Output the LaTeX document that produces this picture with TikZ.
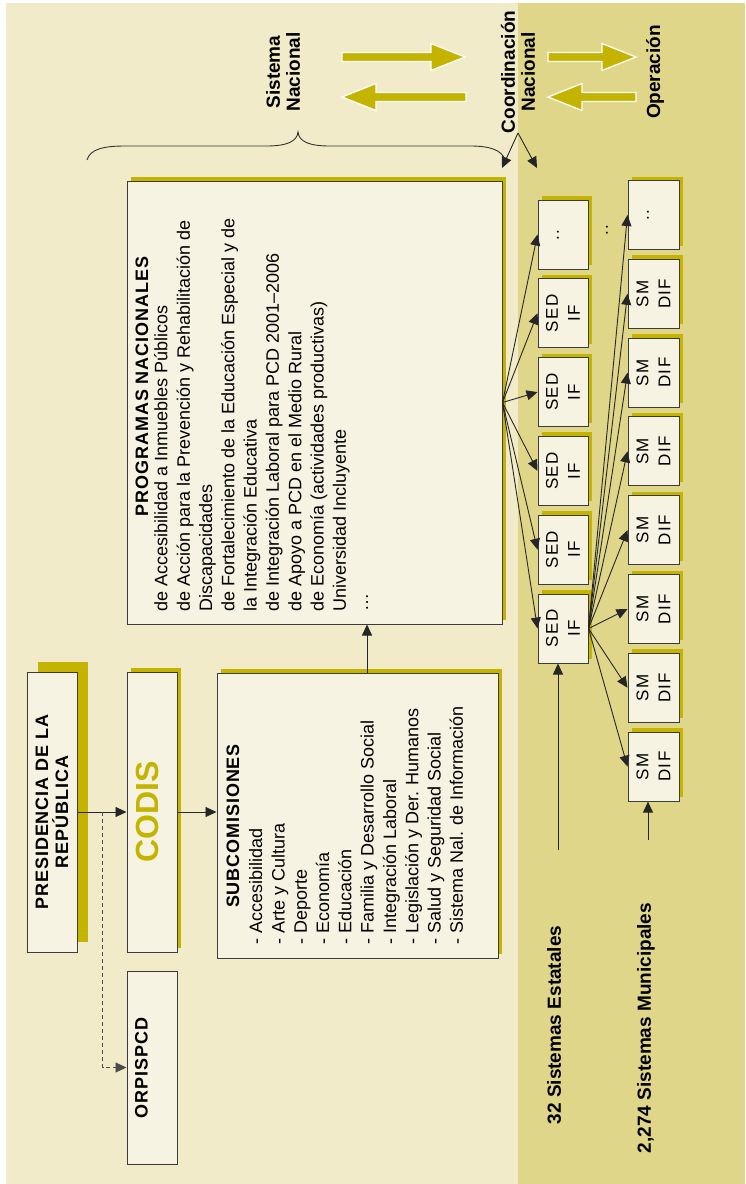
\documentclass[tikz,border=0pt]{standalone}
\usepackage{fontspec}
\setmainfont{Liberation Sans}
\usetikzlibrary{arrows.meta,shadows}

\definecolor{bglight}{HTML}{F1EBC9}
\definecolor{bgdark}{HTML}{DFD68A}
\definecolor{boxfill}{HTML}{F6F3E2}
\definecolor{olivec}{HTML}{C4B400}
\definecolor{boxline}{HTML}{3C3C3C}

\begin{document}
\begin{tikzpicture}[x=1pt, y=-1pt,
    >={Triangle[length=11pt,width=10pt]},
    box/.style={draw=boxline, line width=1pt, fill=boxfill, inner sep=0pt},
    shbox/.style={box, general shadow={fill=olivec, shadow xshift=#1, shadow yshift=#1}},
    shbox/.default=4pt,
    conn/.style={->, line width=0.9pt, black!85},
    bigarrow/.style={fill=olivec, draw=white, line width=1.3pt},
    lbl/.style={font=\fontsize{19}{20}\selectfont\bfseries, rotate=90, align=center, inner sep=0pt},
    ttl/.style={font=\fontsize{18}{20}\selectfont\bfseries\addfontfeature{LetterSpace=5}, rotate=90, align=center, inner sep=0pt},
    txt/.style={font=\fontsize{18}{22.3}\selectfont, rotate=90, align=left, inner sep=0pt},
    cell/.style={font=\fontsize{17}{22}\selectfont\addfontfeature{LetterSpace=8}, rotate=90, align=center, inner sep=0pt}]
  \useasboundingbox (0,0) rectangle (745,1184);
  % Background panels
  \fill[white] (0,0) rectangle (745,1184);
  \fill[bglight] (6,3) rectangle (518,1184);
  \fill[bgdark] (518,3) rectangle (745,1184);

  % Top labels and flow arrows
  \node[lbl] (sysnac) at (283,72) {Sistema\\Nacional};
  \node[lbl] (coordnac) at (518,72) {Coordinación\\Nacional};
  \node[lbl] (oper) at (655,72) {Operación};
  \foreach \xa/\xb/\yy in {342/465/57, 466/342/97, 548/636/57, 636/548/97} {
    \pgfmathsetmacro{\xh}{\xb-34*sign(\xb-\xa)}
    \draw[bigarrow] (\xa,\yy-4.5) -- (\xh,\yy-4.5) -- (\xh,\yy-13.5) -- (\xb,\yy)
      -- (\xh,\yy+13.5) -- (\xh,\yy+4.5) -- (\xa,\yy+4.5) -- cycle;
  }
  % Brace under Sistema Nacional
  \draw[line width=0.9pt, black!80]
    (87,160) .. controls (90,149) and (104,146) .. (125,146) -- (266,146)
    .. controls (286,146) and (297,142) .. (298,132)
    .. controls (299,142) and (310,146) .. (330,146) -- (470,146)
    .. controls (490,146) and (502,150) .. (505,160);
  % Coordination split
  \coordinate (coord) at (518,133);
  \coordinate (coordl) at (502,168);
  \coordinate (coordr) at (537,168);
  \draw[conn] (coord) -- (coordl);
  \draw[conn] (coord) -- (coordr);

  % Federal level
  \node[shbox=10.5pt, minimum width=50, minimum height=280] (pres) at (52,812) {};
  \node[ttl] (prestxt) at (pres) {PRESIDENCIA DE LA\\REPÚBLICA};
  \node[shbox, minimum width=50, minimum height=280] (codis) at (152,812) {};
  \node[rotate=90, font=\fontsize{32}{32}\selectfont\bfseries, text=olivec, inner sep=0pt] (codistxt) at (147,812) {CODIS};
  \node[box, minimum width=50, minimum height=193] (orp) at (152,1067.5) {};
  \node[ttl] (orptxt) at (141.5,1068) {ORPISPCD};

  \node[shbox, minimum width=281, minimum height=285] (subc) at (357.5,815.5) {};
  \node[ttl] (subcttl) at (233,826) {SUBCOMISIONES};
  \node[txt, anchor=north west] (subclist) at (249,945) {- Accesibilidad\\- Arte y Cultura\\- Deporte\\- Economía\\- Educación\\- Familia y Desarrollo Social\\- Integración Laboral\\- Legislación y Der. Humanos\\- Salud y Seguridad Social\\- Sistema Nal. de Información};

  \node[shbox, minimum width=375, minimum height=443] (prog) at (314.5,402.5) {};
  \node[ttl] (progttl) at (142,386.5) {PROGRAMAS NACIONALES};
  \node[txt, anchor=north west] (proglist) at (154,612) {de Accesibilidad a Inmuebles Públicos\\de Acción para la Prevención y Rehabilitación de\\Discapacidades\\de Fortalecimiento de la Educación Especial y de\\la Integración Educativa\\de Integración Laboral para PCD 2001--2006\\de Apoyo a PCD en el Medio Rural\\de Economía (actividades productivas)\\Universidad Incluyente\\…};

  % State systems
  \node[shbox, minimum width=50, minimum height=69] (sed1) at (563,234.5) {};
  \node[cell] (sedt1) at (558,235) {..};
  \foreach \i in {2,...,6} {
    \node[shbox, minimum width=50, minimum height=69] (sed\i) at (563,{234.5+78.8*(\i-1)}) {};
    \node[cell] (sedt\i) at (sed\i) {SED\\IF};
  }
  \node[cell] (gapdots) at (607,230) {..};
  % Municipal systems
  \node[shbox, minimum width=51, minimum height=69] (sm1) at (653.5,215) {};
  \node[cell] (smt1) at (648,215) {..};
  \foreach \i in {2,...,8} {
    \node[shbox, minimum width=51, minimum height=69] (sm\i) at (653.5,{215+78.8*(\i-1)}) {};
    \node[cell] (smt\i) at (sm\i) {SM\\DIF};
  }

  % Connectors
  \draw[conn] (pres.east) -- (codis.west);
  \draw[conn, black!70, dash pattern=on 4pt off 3pt] ([xshift=25pt]pres.east) |- (orp.west);
  \draw[conn] (codis.east) -- (subc.west |- codis.east);
  \draw[conn] ([xshift=9.5pt]subc.north) -- ([xshift=9.5pt]subc.north |- prog.south);
  \foreach \i in {1,...,6}
    \draw[conn] (prog.east) -- (sed\i.west);
  \foreach \i in {1,...,8}
    \draw[conn] (sed6.east) -- (sm\i.west);
  \coordinate (sedin) at (558,850);
  \coordinate (smin) at (648,840);
  \draw[conn] (sedin) -- (sedin |- sed6.south);
  \draw[conn] (smin) -- (smin |- sm8.south);

  % Bottom labels
  \node[lbl] (estat) at (554,1025) {32 Sistemas Estatales};
  \node[lbl] (munic) at (646,1028) {2,274 Sistemas Municipales};
\end{tikzpicture}
\end{document}
